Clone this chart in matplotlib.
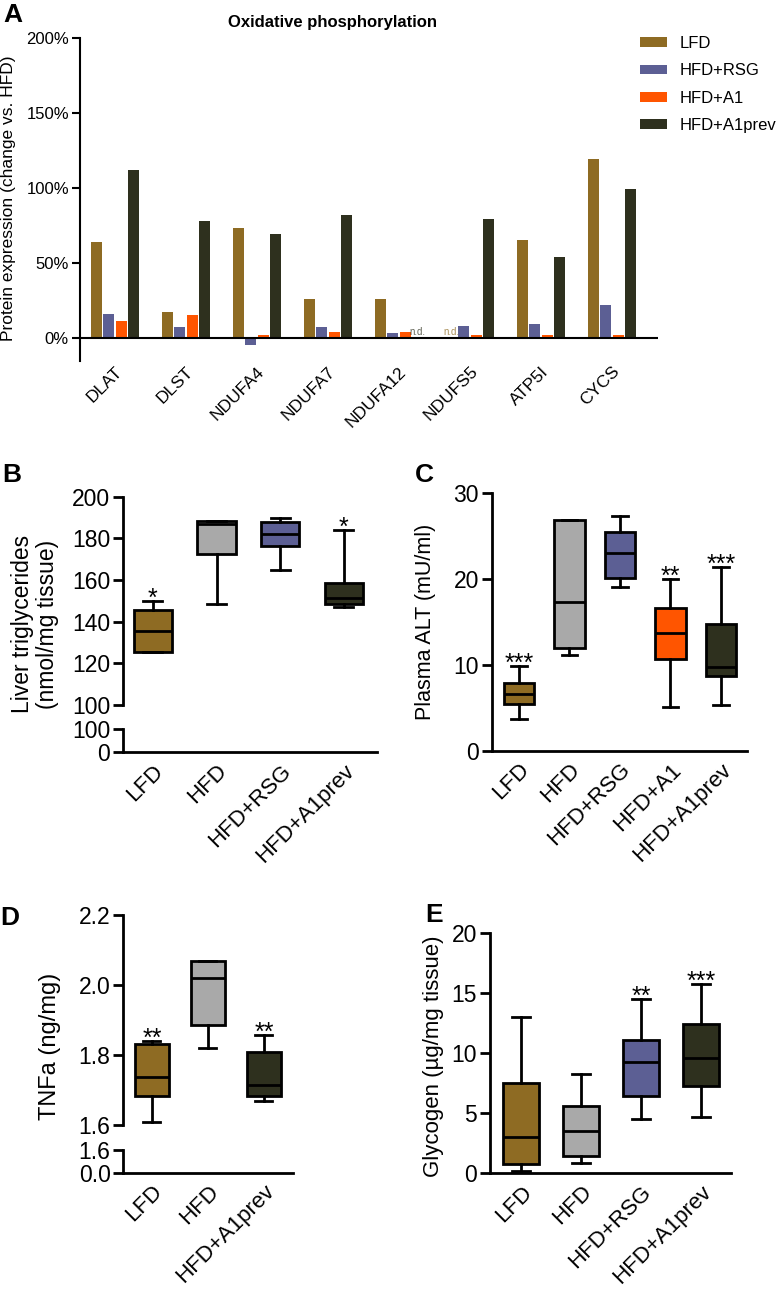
import numpy as np
import matplotlib.pyplot as plt
from matplotlib.patches import Patch

plt.rcParams['font.family'] = ['Liberation Sans', 'DejaVu Sans']

W, H = 780, 1298

# --- panel A: protein expression, % change vs. HFD (nan = n.d.)
genes = ["DLAT", "DLST", "NDUFA4", "NDUFA7", "NDUFA12", "NDUFS5", "ATP5I", "CYCS"]
ox_lfd = [64, 17, 73, 26, 26, np.nan, 65, 119]
ox_rsg = [16, 7, -5, 7, 3, 8, 9, 22]
ox_a1 = [11, 15, 2, 4, 4, 2, 2, 2]
ox_a1prev = [112, 78, 69, 82, np.nan, 79, 54, 99]
ox_series = ["LFD", "HFD+RSG", "HFD+A1", "HFD+A1prev"]

# --- box panels: (whislo, q1, median, q3, whishi)
tg_groups = ["LFD", "HFD", "HFD+RSG", "HFD+A1prev"]
tg_stats = [[125.3, 125.3, 135.5, 145.6, 150.0],
            [148.4, 172.4, 186.7, 188.3, 188.3],
            [165.0, 176.3, 182.1, 187.9, 190.0],
            [147.2, 148.4, 151.2, 158.7, 183.9]]
tg_stars = ["*", "", "", "*"]

alt_groups = ["LFD", "HFD", "HFD+RSG", "HFD+A1", "HFD+A1prev"]
alt_stats = [[3.7, 5.5, 6.6, 7.9, 9.9],
             [11.1, 12.0, 17.3, 26.8, 26.8],
             [19.1, 20.1, 23.0, 25.4, 27.3],
             [5.15, 10.7, 13.7, 16.6, 20.0],
             [5.4, 8.7, 9.8, 14.7, 21.4]]
alt_stars = ["***", "", "", "**", "***"]

tnf_groups = ["LFD", "HFD", "HFD+A1prev"]
tnf_stats = [[1.609, 1.684, 1.738, 1.831, 1.841],
             [1.819, 1.887, 2.019, 2.069, 2.069],
             [1.669, 1.684, 1.714, 1.808, 1.857]]
tnf_stars = ["**", "", "**"]

gly_groups = ["LFD", "HFD", "HFD+RSG", "HFD+A1prev"]
gly_stats = [[0.19, 0.77, 3.04, 7.48, 12.97],
             [0.88, 1.44, 3.52, 5.62, 8.25],
             [4.49, 6.45, 9.23, 11.05, 14.46],
             [4.68, 7.26, 9.58, 12.38, 15.76]]
gly_stars = ["", "", "**", "***"]

COLORS = {"LFD": "#8E6B23", "HFD": "#A9A9A9", "HFD+RSG": "#5C5F94",
          "HFD+A1": "#FF5500", "HFD+A1prev": "#2E301E"}
LW = 2.0

fig = plt.figure(figsize=(W / 100, H / 100), dpi=100)


def px_axes(x0, y0, x1, y1):
    return fig.add_axes([x0 / W, 1 - y1 / H, (x1 - x0) / W, (y1 - y0) / H])


def style(ax, lw=LW, bottom=True):
    for s in ["top", "right"]:
        ax.spines[s].set_visible(False)
    ax.spines["left"].set_linewidth(lw)
    ax.spines["bottom"].set_linewidth(lw)
    ax.spines["bottom"].set_visible(bottom)
    ax.tick_params(axis="y", length=7.2, width=lw, labelsize=16.5, pad=2)
    ax.tick_params(axis="x", length=0, labelsize=16, pad=6)
    ax.patch.set_alpha(0)


def draw_boxes(ax, groups, stats, stars):
    bstats = [dict(whislo=s[0], q1=s[1], med=s[2], q3=s[3], whishi=s[4]) for s in stats]
    art = ax.bxp(bstats, positions=range(len(groups)), widths=0.6, capwidths=0.3,
                 showfliers=False, patch_artist=True, manage_ticks=False,
                 boxprops=dict(linewidth=LW, edgecolor="black"),
                 medianprops=dict(color="black", linewidth=LW),
                 whiskerprops=dict(linewidth=LW, color="black"),
                 capprops=dict(linewidth=LW, color="black"))
    for patch, g in zip(art["boxes"], groups):
        patch.set_facecolor(COLORS[g])
    for i, (s, st) in enumerate(zip(stats, stars)):
        if st:
            ax.annotate(st, (i, s[4]), xytext=(0, -3.6), textcoords="offset points",
                        ha="center", va="baseline", fontsize=18)


def xlabels(ax, groups, size=16):
    ax.set_xticks(range(len(groups)))
    ax.set_xticklabels(groups, rotation=45, ha="right", va="top",
                       rotation_mode="anchor", fontsize=size)


# ---------------- A
axA = px_axes(80, 38, 658, 361)
style(axA, lw=1.5, bottom=False)
x = np.arange(len(genes))
offsets = [-0.26, -0.09, 0.09, 0.26]
for vals, name, off in zip([ox_lfd, ox_rsg, ox_a1, ox_a1prev], ox_series, offsets):
    v = np.array(vals, dtype=float)
    axA.bar(x + off, v, width=0.15, color=COLORS[name], label=name)
    for i in np.where(np.isnan(v))[0]:
        axA.text(i + off, 0.8, "n.d.", ha="center", va="bottom", fontsize=7,
                 color=COLORS[name], alpha=0.75)
axA.axhline(0, color="black", lw=1.5)
axA.set_xlim(-0.49, 7.65)
axA.set_ylim(-15.5, 200)
axA.set_yticks([0, 50, 100, 150, 200])
axA.set_yticklabels([f"{t}%" for t in [0, 50, 100, 150, 200]])
axA.tick_params(axis="y", length=6, width=1.5, labelsize=12, pad=2)
xlabels(axA, genes, size=12.5)
axA.tick_params(axis="x", pad=2)
fig.text(9 / W, 1 - 198 / H, "Protein expression (change vs. HFD)", rotation=90,
         ha="center", va="center", fontsize=12.5)
fig.text(333 / W, 1 - 27 / H, "Oxidative phosphorylation", ha="center", va="baseline",
         fontsize=12, fontweight="bold")
handles = [Patch(facecolor=COLORS[n]) for n in ox_series]
fig.legend(handles, ox_series, loc="upper left", bbox_to_anchor=(640 / W, 1 - 36 / H),
           frameon=False, fontsize=12, handlelength=1.6, handleheight=0.5,
           labelspacing=0.74, handletextpad=0.8, borderpad=0, borderaxespad=0)

# ---------------- B (broken axis)
axB = px_axes(123, 496.7, 377, 705)
axB2 = px_axes(123, 729.3, 377, 752.3)
style(axB, bottom=False)
style(axB2)
draw_boxes(axB, tg_groups, tg_stats, tg_stars)
axB.set_ylim(100, 200)
axB.set_yticks(range(100, 201, 20))
axB.set_xticks([])
axB2.set_ylim(0, 100)
axB2.set_yticks([0, 100])
for a in (axB, axB2):
    a.set_xlim(-0.47, 3.52)
xlabels(axB2, tg_groups)
fig.text(35 / W, 1 - 624 / H, "Liver triglycerides\n(nmol/mg tissue)", rotation=90,
         ha="center", va="center", fontsize=16.5, linespacing=1.1)

# ---------------- C
axC = px_axes(491.7, 492.7, 746.7, 751)
style(axC)
draw_boxes(axC, alt_groups, alt_stats, alt_stars)
axC.set_ylim(0, 30)
axC.set_yticks([0, 10, 20, 30])
axC.set_xlim(-0.54, 4.51)
xlabels(axC, alt_groups)
fig.text(426 / W, 1 - 622 / H, "Plasma ALT (mU/ml)", rotation=90,
         ha="center", va="center", fontsize=15.5)

# ---------------- D (broken axis)
axD = px_axes(123.3, 915, 293, 1125)
axD2 = px_axes(123.3, 1150, 293, 1172.7)
style(axD, bottom=False)
style(axD2)
draw_boxes(axD, tnf_groups, tnf_stats, tnf_stars)
axD.set_ylim(1.6, 2.2)
axD.set_yticks([1.6, 1.8, 2.0, 2.2])
axD.set_yticklabels([f"{t:.1f}" for t in [1.6, 1.8, 2.0, 2.2]])
axD.set_xticks([])
axD2.set_ylim(0, 1.6)
axD2.set_yticks([0, 1.6])
axD2.set_yticklabels(["0.0", "1.6"])
for a in (axD, axD2):
    a.set_xlim(-0.51, 2.52)
xlabels(axD2, tnf_groups)
fig.text(50 / W, 1 - 1046 / H, "TNFa (ng/mg)", rotation=90,
         ha="center", va="center", fontsize=17)

# ---------------- E
axE = px_axes(490, 932.7, 730.7, 1173.3)
style(axE)
draw_boxes(axE, gly_groups, gly_stats, gly_stars)
axE.set_ylim(0, 20)
axE.set_yticks([0, 5, 10, 15, 20])
axE.set_xlim(-0.52, 3.5)
xlabels(axE, gly_groups)
fig.text(433 / W, 1 - 1056 / H, "Glycogen (µg/mg tissue)", rotation=90,
         ha="center", va="center", fontsize=16)

# panel letters
for lab, (px, py) in {"A": (3, 22), "B": (2, 482), "C": (415, 482),
                      "D": (0, 925), "E": (425, 922)}.items():
    fig.text(px / W, 1 - py / H, lab, ha="left", va="baseline", fontsize=19,
             fontweight="bold")

fig.savefig("out.png", dpi=100)
